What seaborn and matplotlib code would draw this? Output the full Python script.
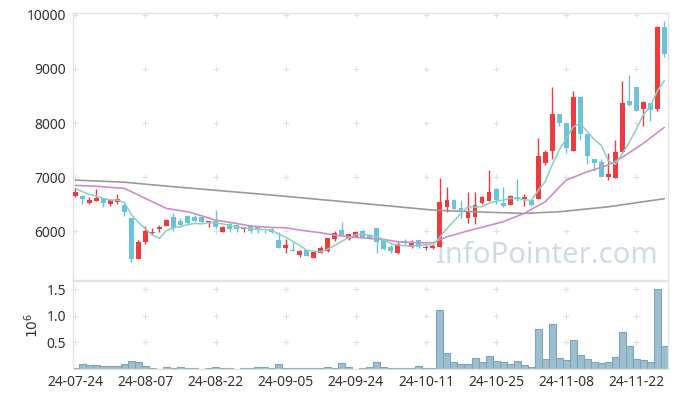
import numpy as np
import pandas as pd
import matplotlib
matplotlib.use("Agg")
import matplotlib.pyplot as plt
import seaborn as sns

# ---------------- data ----------------
opens = [6650, 6650, 6525, 6560, 6610, 6500, 6540, 6490, 6240, 5490,
         5790, 5960, 6040, 6100, 6260, 6185, 6280, 6260, 6260, 6160,
         6185, 5990, 6125, 6110, 6045, 6105, 6080, 6045, 6040, 5830,
         5690, 5640, 5555, 5645, 5510, 5600, 5625, 5860, 6020, 5850,
         5895, 5995, 5930, 6050, 5835, 5710, 5590, 5810, 5700, 5830,
         5690, 5690, 5710, 6450, 6575, 6425, 6235, 6265, 6515, 6560,
         6780, 6520, 6490, 6635, 6600, 6575, 6600, 7255, 7490, 8165,
         7995, 7490, 8480, 7800, 7330, 7270, 6995, 6990, 7465, 8405,
         8665, 8260, 8365, 8255, 9785]
highs = [6790, 6660, 6640, 6780, 6620, 6600, 6690, 6530, 6250, 5830,
         6090, 6050, 6110, 6220, 6330, 6240, 6290, 6290, 6270, 6185,
         6390, 6090, 6160, 6140, 6080, 6110, 6090, 6050, 6050, 5990,
         5846, 5800, 5660, 5660, 5640, 5730, 5870, 6006, 6160, 5955,
         5990, 6031, 5940, 6060, 5840, 5740, 5790, 5850, 5830, 5835,
         5740, 5760, 6990, 6810, 6590, 6580, 6715, 6715, 6650, 7130,
         6790, 6815, 6665, 6960, 6680, 6580, 7720, 7500, 8660, 8170,
         8000, 8600, 8490, 7805, 7340, 7330, 7440, 7680, 8785, 8890,
         8670, 8400, 8370, 9790, 9890]
lows = [6635, 6500, 6500, 6550, 6440, 6460, 6510, 6280, 5430, 5480,
        5770, 5920, 5990, 6090, 5995, 6080, 6110, 6160, 6150, 6080,
        6050, 5985, 5990, 5985, 5990, 5960, 5960, 5960, 5970, 5690,
        5600, 5625, 5520, 5540, 5505, 5595, 5615, 5815, 5920, 5845,
        5890, 5890, 5860, 5590, 5660, 5590, 5585, 5740, 5680, 5695,
        5650, 5670, 5705, 6350, 6405, 6240, 6155, 6130, 6500, 6555,
        6494, 6450, 6480, 6560, 6460, 6470, 6590, 7230, 7330, 7950,
        7450, 7480, 7685, 7235, 7111, 6995, 6950, 6985, 7460, 8320,
        8215, 7944, 8040, 8220, 9215]
closes = [6720, 6590, 6575, 6610, 6525, 6575, 6590, 6350, 5480, 5800,
          6000, 5980, 6075, 6200, 6050, 6110, 6155, 6190, 6160, 6180,
          6070, 6075, 6040, 6040, 6070, 6000, 6015, 6025, 5980, 5690,
          5740, 5630, 5630, 5545, 5610, 5685, 5865, 5970, 5925, 5940,
          5975, 5895, 5865, 5800, 5665, 5630, 5755, 5790, 5785, 5700,
          5705, 5720, 6540, 6575, 6410, 6390, 6360, 6480, 6630, 6720,
          6575, 6465, 6650, 6600, 6630, 6480, 7390, 7465, 8165, 7995,
          7530, 8480, 7800, 7395, 7265, 7005, 7050, 7465, 8365, 8330,
          8220, 8390, 8240, 9785, 9280]
volume_m = [0.02, 0.10, 0.07, 0.07, 0.05, 0.05, 0.05, 0.10, 0.16, 0.14,
            0.05, 0.02, 0.005, 0.04, 0.02, 0.04, 0.02, 0.02, 0.005, 0.02,
            0.04, 0.02, 0.02, 0.005, 0.02, 0.02, 0.04, 0.04, 0.02, 0.10,
            0.02, 0.02, 0.02, 0.02, 0.02, 0.02, 0.04, 0.02, 0.11, 0.04,
            0.005, 0.02, 0.04, 0.13, 0.04, 0.02, 0.02, 0.02, 0.02, 0.06,
            0.02, 0.02, 1.12, 0.30, 0.13, 0.10, 0.10, 0.21, 0.13, 0.25,
            0.15, 0.13, 0.10, 0.15, 0.08, 0.04, 0.76, 0.19, 0.85, 0.21,
            0.17, 0.54, 0.26, 0.19, 0.13, 0.12, 0.13, 0.23, 0.70, 0.43,
            0.19, 0.17, 0.13, 1.50, 0.43]
# first four 5-day averages (earlier history not shown)
ma5_head = [6790, 6730, 6680, 6650]
# 20-day average at these bar positions
ma20_idx = [0, 3, 7, 9, 11, 13, 16, 18, 20, 23, 25, 28, 30, 32, 35, 37, 39, 42,
            44, 46, 49, 51, 53, 56, 61, 64, 67, 70, 73, 76, 78, 81, 84]
ma20_val = [6846, 6830, 6790, 6667, 6543, 6420, 6358, 6284, 6204, 6142, 6093,
            6068, 6062, 6019, 5969, 5926, 5895, 5864, 5846, 5802, 5784, 5784,
            5895, 6005, 6173, 6328, 6543, 6944, 7098, 7222, 7365, 7624, 7920]
# long moving average (grey)
mal_idx = [0, 7, 13, 28, 42, 51, 57, 64, 69, 76, 84]
mal_val = [6944, 6905, 6833, 6667, 6500, 6389, 6358, 6328, 6358, 6450, 6600]

tick_pos = [0, 10, 20, 30, 40, 50, 60, 70, 80]
tick_labels = ["24-07-24", "24-08-07", "24-08-22", "24-09-05", "24-09-24",
               "24-10-11", "24-10-25", "24-11-08", "24-11-22"]
price_ticks = [6000, 7000, 8000, 9000, 10000]
vol_ticks = [0.5, 1.0, 1.5]

# ---------------- derived ----------------
n = len(closes)
idx = np.arange(n)
df = pd.DataFrame({"i": idx, "open": opens, "high": highs, "low": lows,
                   "close": closes, "vol": volume_m})
ma5 = df["close"].rolling(5).mean().to_numpy()
ma5[:4] = ma5_head
df["ma5"] = ma5

UP = "#ef3b3e"
DOWN = "#6ac3db"

sns.set_theme(style="white")
plt.rcParams["font.family"] = ["Noto Sans", "DejaVu Sans"]

fig = plt.figure(figsize=(6.77, 3.99), dpi=100)
W, H = 677, 399
left, right = 73, 667.5
ax1 = fig.add_axes([left / W, 1 - 279.5 / H, (right - left) / W, (279.5 - 13.3) / H])
ax2 = fig.add_axes([left / W, 1 - 369 / H, (right - left) / W, (369 - 281) / H])

# ---- candles ----
up = df["close"] >= df["open"]
colors = np.where(up, UP, DOWN)
ax1.vlines(df["i"], df["low"], df["high"], colors=colors, linewidth=1.0, zorder=3)
body_h = (df["close"] - df["open"]).abs().clip(lower=12)
ax1.bar(df["i"], body_h, bottom=np.minimum(df["open"], df["close"]), width=0.7,
        color=colors, linewidth=0, zorder=3)

# ---- moving averages ----
sns.lineplot(x=mal_idx, y=mal_val, ax=ax1, color="#9a9a9a", linewidth=1.2, zorder=4)
sns.lineplot(x=ma20_idx, y=ma20_val, ax=ax1, color="#cf8ccb", linewidth=1.2, zorder=4)
sns.lineplot(data=df, x="i", y="ma5", ax=ax1, color="#8ad0c4", linewidth=1.1, zorder=5)

ax1.set_xlim(-0.33, 84.45)
ax1.set_ylim(5105, 10030)
ax1.set_yticks(price_ticks)
ax1.set_yticklabels([str(v) for v in price_ticks])
ax1.set_xticks(tick_pos)
ax1.set_xticklabels([])
ax1.set_xlabel("")
ax1.set_ylabel("")
gx, gy = np.meshgrid(tick_pos, price_ticks)
ax1.scatter(gx.ravel(), gy.ravel(), marker="+", s=16, color="#e2e2e2", linewidths=0.8, zorder=1)
ax1.text(0.985, 0.035, "InfoPointer.com", transform=ax1.transAxes, ha="right", va="bottom",
         fontsize=21, color="#cbdce7", zorder=2)

# ---- volume ----
sns.barplot(data=df, x="i", y="vol", ax=ax2, native_scale=True, width=1.0,
            color="#9cbfcf", edgecolor="#7ea6ba", linewidth=0.8, saturation=1)
ax2.set_xlim(-0.33, 84.45)
ax2.set_ylim(0, 1.66)
ax2.set_yticks(vol_ticks)
ax2.set_yticklabels(["0.5", "1.0", "1.5"])
ax2.set_xticks(tick_pos)
ax2.set_xticklabels(tick_labels)
ax2.set_xlabel("")
ax2.set_ylabel(r"$10^6$", fontsize=10, color="#333333", labelpad=3)
gx2, gy2 = np.meshgrid(tick_pos, vol_ticks)
ax2.scatter(gx2.ravel(), gy2.ravel(), marker="+", s=16, color="#e2e2e2", linewidths=0.8, zorder=0)

for ax in (ax1, ax2):
    for s in ax.spines.values():
        s.set_color("#e3e3e3")
        s.set_linewidth(1.0)
    ax.tick_params(axis="both", length=0, labelsize=10, labelcolor="#333333", pad=5)
    ax.grid(False)
ax2.tick_params(axis="x", pad=4)

fig.savefig("out.png", dpi=100)
